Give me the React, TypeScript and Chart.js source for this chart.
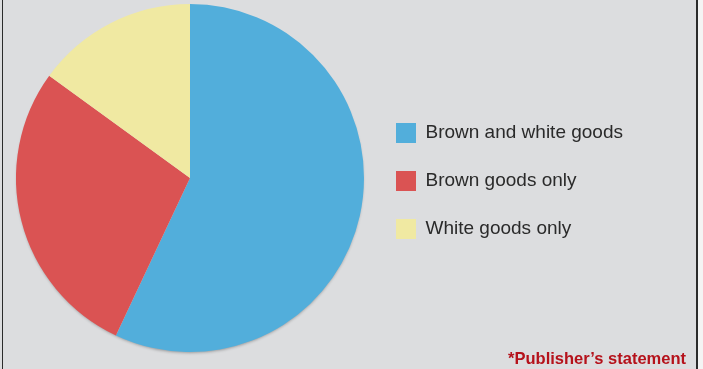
import React, { useEffect, useRef } from 'react';
import { Chart, registerables } from 'chart.js';

Chart.register(...registerables);

const categories = ['Brown and white goods', 'Brown goods only', 'White goods only'];
const shares = [57, 28, 15];
const sliceColors = ['#52aedb', '#da5353', '#f0e9a2'];
const footnote = '*Publisher\u2019s statement';

const PANEL_BG = '#dcdddf';
const FONT = "'Liberation Sans', Arial, sans-serif";

const pieShadow = {
  id: 'pieShadow',
  beforeDatasetsDraw(chart: any) {
    const meta = chart.getDatasetMeta(0);
    const arc = meta && meta.data && meta.data[0];
    if (!arc) return;
    const { x, y, outerRadius } = arc.getProps(['x', 'y', 'outerRadius'], true);
    const c = chart.ctx;
    c.save();
    c.shadowColor = 'rgba(0,0,0,0.3)';
    c.shadowBlur = 3;
    c.shadowOffsetY = 2;
    c.beginPath();
    c.arc(x, y, outerRadius - 1, 0, Math.PI * 2);
    c.fillStyle = PANEL_BG;
    c.fill();
    c.restore();
  },
};

export default function App() {
  const ref = useRef<HTMLCanvasElement>(null);
  useEffect(() => {
    document.body.style.margin = '0';
    const canvas = ref.current;
    if (!canvas) return;
    const chart = new Chart(canvas, {
      type: 'pie',
      data: {
        labels: categories,
        datasets: [
          {
            data: shares,
            backgroundColor: sliceColors,
            borderWidth: 0,
          },
        ],
      },
      plugins: [pieShadow],
      options: {
        animation: false,
        responsive: false,
        devicePixelRatio: 1,
        layout: { padding: { left: 12, right: 65, top: 4, bottom: 17 } },
        plugins: {
          tooltip: { enabled: false },
          legend: {
            position: 'right',
            align: 'center',
            title: { display: true, text: ' ', padding: 0, font: { size: 6, lineHeight: 1 } },
            labels: {
              boxWidth: 20,
              boxHeight: 20,
              padding: 28,
              color: '#2a2a2a',
              font: { family: FONT, size: 19, lineHeight: 1 },
            },
          },
        },
      },
    });
    return () => chart.destroy();
  }, []);

  return (
    <div style={{ position: 'relative', width: 703, height: 369, background: '#f4f4f4', overflow: 'hidden' }}>
      <div
        style={{
          position: 'absolute',
          left: 0,
          top: 0,
          width: 698,
          height: 369,
          background: PANEL_BG,
        }}
      />
      <canvas ref={ref} width={698} height={369} style={{ position: 'absolute', left: 0, top: 0 }} />
      <div style={{ position: 'absolute', left: 2, top: 0, width: 1, height: 369, background: '#2b2b2b' }} />
      <div style={{ position: 'absolute', left: 696, top: 0, width: 2, height: 369, background: '#2b2b2b' }} />
      <div
        style={{
          position: 'absolute',
          right: 17,
          top: 348,
          fontFamily: FONT,
          fontWeight: 'bold',
          fontSize: 16.5,
          lineHeight: '20px',
          color: '#b5121b',
          whiteSpace: 'nowrap',
        }}
      >
        {footnote}
      </div>
    </div>
  );
}
